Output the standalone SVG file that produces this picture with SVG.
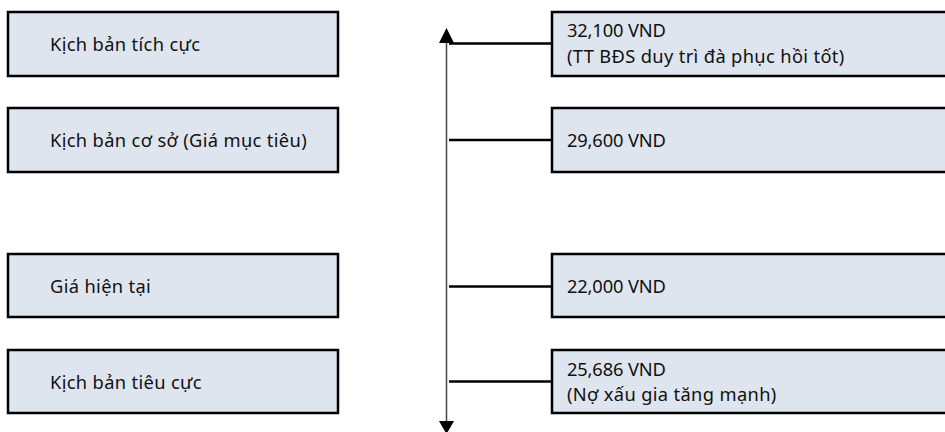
<svg xmlns="http://www.w3.org/2000/svg" width="945" height="432" viewBox="0 0 945 432">
<style>
.box{fill:#DEE5EF;stroke:#000;stroke-width:2.5}
.t{font-family:"Noto Sans","Liberation Sans",sans-serif;font-size:18.3px;letter-spacing:0.35px;fill:#111}
.v{letter-spacing:-0.15px}
.conn{stroke:#000;stroke-width:2.5;fill:none}
.axis{stroke:#444;stroke-width:1.5;fill:none}
</style>
<rect width="945" height="432" fill="#fff"/>
<g id="left-positive"><rect class="box" x="8" y="12" width="330" height="64"/><text class="t" x="50" y="51">Kịch bản tích cực</text></g>
<g id="left-base"><rect class="box" x="8" y="108" width="330" height="64"/><text class="t" x="50" y="147">Kịch bản cơ sở (Giá mục tiêu)</text></g>
<g id="left-current"><rect class="box" x="8" y="254" width="330" height="63"/><text class="t" x="50" y="293">Giá hiện tại</text></g>
<g id="left-negative"><rect class="box" x="8" y="350" width="330" height="63"/><text class="t" x="50" y="389">Kịch bản tiêu cực</text></g>
<g id="right-positive"><rect class="box" x="552" y="12" width="400" height="64"/><text class="t" x="567" y="37"><tspan class="v">32,100 VND</tspan><tspan x="567" y="62.5">(TT BĐS duy trì đà phục hồi tốt)</tspan></text></g>
<g id="right-base"><rect class="box" x="552" y="108" width="400" height="64"/><text class="t v" x="567" y="147">29,600 VND</text></g>
<g id="right-current"><rect class="box" x="552" y="254" width="400" height="63"/><text class="t v" x="567" y="293">22,000 VND</text></g>
<g id="right-negative"><rect class="box" x="552" y="350" width="400" height="63"/><text class="t" x="567" y="375.5"><tspan class="v">25,686 VND</tspan><tspan x="567" y="401">(Nợ xấu gia tăng mạnh)</tspan></text></g>
<g id="connectors">
<line class="axis" x1="446.5" y1="40" x2="446.5" y2="424"/>
<polygon points="446.5,28 439,43 454,43" fill="#000"/>
<polygon points="446.5,434 439,421 454,421" fill="#000"/>
<line class="conn" x1="449" y1="43.5" x2="552" y2="43.5"/>
<line class="conn" x1="449" y1="140" x2="552" y2="140"/>
<line class="conn" x1="449" y1="286.5" x2="552" y2="286.5"/>
<line class="conn" x1="449" y1="381.5" x2="552" y2="381.5"/>
</g>
</svg>
